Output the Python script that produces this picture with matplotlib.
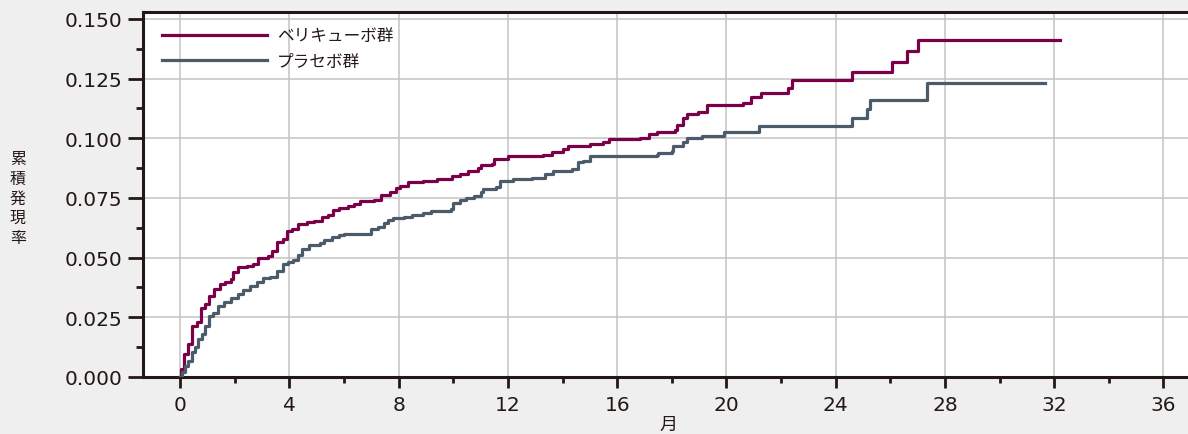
import matplotlib.pyplot as plt
import numpy as np

plt.rcParams['font.family'] = ['DejaVu Sans', 'Noto Sans CJK JP']

# ベリキューボ群 (step curve, post)
veri_t = [0, 0.03, 0.15, 0.29, 0.45, 0.6, 0.75, 0.92, 1.05, 1.25, 1.45, 1.65, 1.85, 1.95,
          2.1, 2.45, 2.65, 2.85, 3.2, 3.35, 3.55, 3.75, 3.9, 4.1, 4.3, 4.65, 4.9, 5.2,
          5.4, 5.6, 5.8, 6.15, 6.35, 6.6, 7.1, 7.35, 7.7, 7.9, 8.05, 8.35, 8.9, 9.4,
          9.95, 10.25, 10.55, 10.9, 11.0, 11.4, 11.5, 12.0, 13.3, 13.6, 14.0, 14.2,
          15.0, 15.5, 15.7, 16.85, 17.15, 17.45, 18.1, 18.2, 18.4, 18.55, 18.95, 19.3,
          20.6, 20.9, 21.25, 22.25, 22.4, 24.6, 26.05, 26.6, 27.0, 32.2]
veri_v = [0, 0.0034, 0.0096, 0.0138, 0.0214, 0.023, 0.029, 0.0306, 0.034, 0.037, 0.039,
          0.040, 0.041, 0.044, 0.046, 0.0465, 0.0473, 0.050, 0.0507, 0.0528, 0.0566,
          0.058, 0.061, 0.062, 0.064, 0.065, 0.0654, 0.067, 0.068, 0.070, 0.0708,
          0.0716, 0.0725, 0.0737, 0.0742, 0.0763, 0.0775, 0.0792, 0.080, 0.0817,
          0.0821, 0.083, 0.0842, 0.085, 0.0863, 0.0876, 0.0888, 0.0893, 0.0913,
          0.0926, 0.093, 0.0943, 0.0955, 0.0968, 0.0976, 0.0985, 0.0997, 0.1001,
          0.1018, 0.1027, 0.1035, 0.1056, 0.1085, 0.110, 0.111, 0.114, 0.1148,
          0.1173, 0.119, 0.121, 0.1244, 0.1278, 0.132, 0.1366, 0.1412, 0.1412]

# プラセボ群
plac_t = [0, 0.05, 0.18, 0.3, 0.44, 0.55, 0.66, 0.8, 0.92, 1.05, 1.2, 1.4, 1.6, 1.85,
          2.1, 2.3, 2.55, 2.8, 3.05, 3.3, 3.55, 3.75, 3.95, 4.15, 4.3, 4.45, 4.7, 5.13,
          5.25, 5.55, 5.8, 6.0, 7.0, 7.25, 7.45, 7.6, 7.8, 8.2, 8.5, 8.9, 9.2, 9.9,
          10.0, 10.25, 10.45, 10.75, 11.0, 11.1, 11.55, 11.72, 12.2, 12.9, 13.35,
          13.65, 14.35, 14.55, 14.75, 15.0, 17.45, 17.5, 18.0, 18.05, 18.4, 18.55,
          19.1, 19.9, 21.2, 24.6, 25.15, 25.25, 27.35, 31.65]
plac_v = [0, 0.002, 0.0046, 0.0067, 0.0105, 0.0126, 0.016, 0.018, 0.0214, 0.0256,
          0.027, 0.0297, 0.0314, 0.033, 0.0348, 0.0365, 0.038, 0.040, 0.0415, 0.0419,
          0.0444, 0.0473, 0.048, 0.049, 0.051, 0.0536, 0.0553, 0.056, 0.0574, 0.0587,
          0.0595, 0.060, 0.062, 0.063, 0.0645, 0.0658, 0.0666, 0.067, 0.0679, 0.0687,
          0.0696, 0.0704, 0.0729, 0.0742, 0.075, 0.0758, 0.0775, 0.0788, 0.0796,
          0.0821, 0.083, 0.0834, 0.085, 0.0863, 0.0871, 0.090, 0.0905, 0.0926, 0.093,
          0.0939, 0.0947, 0.0968, 0.0985, 0.1001, 0.101, 0.1027, 0.1052, 0.1085,
          0.1123, 0.116, 0.123, 0.123]

labels = ['ベリキューボ群', 'プラセボ群']
colors = ['#7a0048', '#4b5b69']
dark = '#231815'

fig = plt.figure(figsize=(11.88, 4.35), dpi=100, facecolor='#efefef')
ax = fig.add_axes([143 / 1188, 57 / 435, 1 - 143 / 1188, (378 - 13) / 435])
ax.set_facecolor('white')

ax.step(veri_t, veri_v, where='post', color=colors[0], lw=2.3, label=labels[0], zorder=3)
ax.step(plac_t, plac_v, where='post', color=colors[1], lw=2.3, label=labels[1], zorder=3)

ax.set_xlim(-1.36, 36.9)
ax.set_ylim(0, 0.1529)
ax.set_xticks(np.arange(0, 37, 4))
ax.set_xticks(np.arange(2, 37, 4), minor=True)
ax.set_yticks(np.arange(0, 0.151, 0.025))
ax.set_yticks(np.arange(0.0125, 0.15, 0.025), minor=True)
ax.set_yticklabels(['%.3f' % v for v in np.arange(0, 0.151, 0.025)])
ax.grid(True, which='major', color='#c4c4c4', lw=1.1, zorder=0)

for s in ['left', 'top', 'bottom']:
    ax.spines[s].set_linewidth(2.2)
    ax.spines[s].set_color(dark)
ax.spines['right'].set_visible(False)

ax.tick_params(axis='y', which='major', length=11, width=2, color=dark,
               labelsize=14.5, labelcolor=dark, pad=4)
ax.tick_params(axis='y', which='minor', length=5, width=2, color=dark)
ax.tick_params(axis='x', which='major', length=8, width=2, color=dark,
               labelsize=14.5, labelcolor=dark, pad=5)
ax.tick_params(axis='x', which='minor', length=4, width=2, color=dark)

leg = ax.legend(loc='upper left', bbox_to_anchor=(0.012, 0.976), frameon=False,
                borderaxespad=0, handlelength=6.3, handletextpad=0.6, labelspacing=0.5,
                prop={'family': ['Noto Sans CJK JP'], 'size': 12})
for t in leg.get_texts():
    t.set_color(dark)

fig.text(18 / 1188, 1 - 199 / 435, '\n'.join('累積発現率'), ha='center', va='center',
         family=['Noto Sans CJK JP'], fontsize=11.5, color=dark, linespacing=1.2)
fig.text(668 / 1188, 1 - 425 / 435, '月', ha='center', va='center',
         family=['Noto Sans CJK JP'], fontsize=13, color=dark)

fig.savefig('out.png', dpi=100, facecolor=fig.get_facecolor())
